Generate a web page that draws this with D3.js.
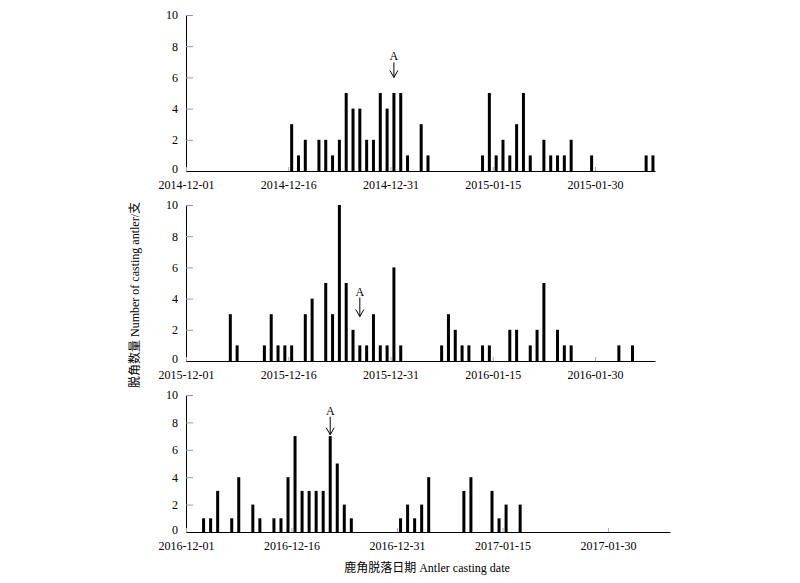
<!DOCTYPE html>
<html>
<head>
<meta charset="utf-8">
<script src="https://cdn.jsdelivr.net/npm/d3@7"></script>
<style>
  html, body { margin: 0; padding: 0; background: #fff; }
  svg text { font-family: "Liberation Serif", "Noto Sans CJK SC", serif; }
</style>
</head>
<body>
<svg id="chart" width="800" height="583"></svg>
<script>
// ---------------- data ----------------
const yTicks = [0, 2, 4, 6, 8, 10];

const season1Start = "2014-12-01";
const season1Dates = ["2014-12-16","2014-12-17","2014-12-18","2014-12-20","2014-12-21","2014-12-22","2014-12-23","2014-12-24","2014-12-25","2014-12-26","2014-12-27","2014-12-28","2014-12-29","2014-12-30","2014-12-31","2015-01-01","2015-01-02","2015-01-04","2015-01-05","2015-01-13","2015-01-14","2015-01-15","2015-01-16","2015-01-17","2015-01-18","2015-01-19","2015-01-20","2015-01-22","2015-01-23","2015-01-24","2015-01-25","2015-01-26","2015-01-29","2015-02-06","2015-02-07"];
const season1Counts = [3,1,2,2,2,1,2,5,4,4,2,2,5,4,5,5,1,3,1,1,5,1,2,1,3,5,1,2,1,1,1,2,1,1,1];
const season1Ticks = ["2014-12-01","2014-12-16","2014-12-31","2015-01-15","2015-01-30"];
const season1Arrow = { date: "2014-12-31", tip: 6.0 };

const season2Start = "2015-12-01";
const season2Dates = ["2015-12-07","2015-12-08","2015-12-12","2015-12-13","2015-12-14","2015-12-15","2015-12-16","2015-12-18","2015-12-19","2015-12-21","2015-12-22","2015-12-23","2015-12-24","2015-12-25","2015-12-26","2015-12-27","2015-12-28","2015-12-29","2015-12-30","2015-12-31","2016-01-01","2016-01-07","2016-01-08","2016-01-09","2016-01-10","2016-01-11","2016-01-13","2016-01-14","2016-01-17","2016-01-18","2016-01-20","2016-01-21","2016-01-22","2016-01-24","2016-01-25","2016-01-26","2016-02-02","2016-02-04"];
const season2Counts = [3,1,1,3,1,1,1,3,4,5,3,10,5,2,1,1,3,1,1,6,1,1,3,2,1,1,1,1,2,2,1,2,5,2,1,1,1,1];
const season2Ticks = ["2015-12-01","2015-12-16","2015-12-31","2016-01-15","2016-01-30"];
const season2Arrow = { date: "2015-12-26", tip: 2.85 };

const season3Start = "2016-12-01";
const season3Dates = ["2016-12-03","2016-12-04","2016-12-05","2016-12-07","2016-12-08","2016-12-10","2016-12-11","2016-12-13","2016-12-14","2016-12-15","2016-12-16","2016-12-17","2016-12-18","2016-12-19","2016-12-20","2016-12-21","2016-12-22","2016-12-23","2016-12-24","2016-12-31","2017-01-01","2017-01-02","2017-01-03","2017-01-04","2017-01-09","2017-01-10","2017-01-13","2017-01-14","2017-01-15","2017-01-17"];
const season3Counts = [1,1,3,1,4,2,1,1,1,4,7,3,3,3,3,7,5,2,1,1,2,1,2,4,3,4,3,1,2,2];
const season3Ticks = ["2016-12-01","2016-12-16","2016-12-31","2017-01-15","2017-01-30"];
const season3Arrow = { date: "2016-12-21", tip: 7.1 };

const arrowLabel = "A";
const yTitle = "脱角数量 Number of casting antler/支";
const xTitle = "鹿角脱落日期 Antler casting date";

// ---------------- layout ----------------
const parse = d3.utcParse("%Y-%m-%d");
const fmt = d3.utcFormat("%Y-%m-%d");
const DAY = 86400000;
const spanDays = 68.8;

const panels = [
  { start: season1Start, dates: season1Dates, counts: season1Counts, ticks: season1Ticks, arrow: season1Arrow,
    x0: 186, x1: 655, yBottom: 171, yTop: 15, arrowLen: 15 },
  { start: season2Start, dates: season2Dates, counts: season2Counts, ticks: season2Ticks, arrow: season2Arrow,
    x0: 186, x1: 655, yBottom: 361, yTop: 205, arrowLen: 19 },
  { start: season3Start, dates: season3Dates, counts: season3Counts, ticks: season3Ticks, arrow: season3Arrow,
    x0: 186, x1: 670, yBottom: 532, yTop: 395, arrowLen: 18 }
];

const svg = d3.select("#chart");

panels.forEach(p => {
  const s = parse(p.start);
  const x = d3.scaleUtc()
    .domain([s, new Date(s.getTime() + spanDays * DAY)])
    .range([p.x0, p.x1]);
  const y = d3.scaleLinear().domain([0, 10]).range([p.yBottom, p.yTop]);
  const dayW = x(new Date(s.getTime() + DAY)) - x(s);
  const g = svg.append("g");

  // bars
  const bw = 3;
  g.selectAll("rect.bar")
    .data(p.dates.map((d, i) => ({ date: parse(d), v: p.counts[i] })))
    .join("rect")
    .attr("class", "bar")
    .attr("x", d => x(d.date) + dayW / 2 - bw / 2)
    .attr("y", d => y(d.v))
    .attr("width", bw)
    .attr("height", d => y(0) - y(d.v))
    .attr("fill", "#000");

  // y axis
  const ya = g.append("g")
    .attr("transform", `translate(${p.x0},0)`)
    .call(d3.axisLeft(y).tickValues(yTicks).tickSize(-7).tickSizeOuter(0).tickPadding(8));
  ya.select(".domain").attr("stroke", "#000");
  ya.selectAll(".tick line").attr("stroke", "#999");
  ya.selectAll(".tick text").attr("font-size", 12).attr("fill", "#000")
    .attr("font-family", "Liberation Serif")
    .attr("dy", d => d === 0 ? "0.1em" : "0.32em");

  // x axis
  const xa = g.append("g")
    .attr("transform", `translate(0,${p.yBottom})`)
    .call(d3.axisBottom(x).tickValues(p.ticks.map(parse)).tickFormat(fmt)
      .tickSize(-4).tickSizeOuter(0).tickPadding(9));
  xa.select(".domain").attr("stroke", "#000");
  xa.selectAll(".tick line").attr("stroke", "#aaa");
  xa.selectAll(".tick text").attr("font-size", 12).attr("fill", "#000")
    .attr("font-family", "Liberation Serif");

  // arrow annotation
  const ax = x(parse(p.arrow.date)) + dayW / 2;
  const tipY = y(p.arrow.tip);
  const topY = tipY - p.arrowLen;
  g.append("line")
    .attr("x1", ax).attr("x2", ax).attr("y1", topY).attr("y2", tipY)
    .attr("stroke", "#000").attr("stroke-width", 1);
  g.append("path")
    .attr("d", `M${ax - 4},${tipY - 7} L${ax},${tipY} L${ax + 4},${tipY - 7}`)
    .attr("fill", "none").attr("stroke", "#000").attr("stroke-width", 1);
  g.append("text")
    .attr("x", ax).attr("y", topY - 2)
    .attr("text-anchor", "middle")
    .attr("font-size", 12)
    .text(arrowLabel);
});

// axis titles
svg.append("text")
  .attr("transform", "translate(139,295) rotate(-90)")
  .attr("text-anchor", "middle")
  .attr("font-size", 12)
  .text(yTitle);

svg.append("text")
  .attr("x", 427).attr("y", 572)
  .attr("text-anchor", "middle")
  .attr("font-size", 12)
  .text(xTitle);
</script>
</body>
</html>
